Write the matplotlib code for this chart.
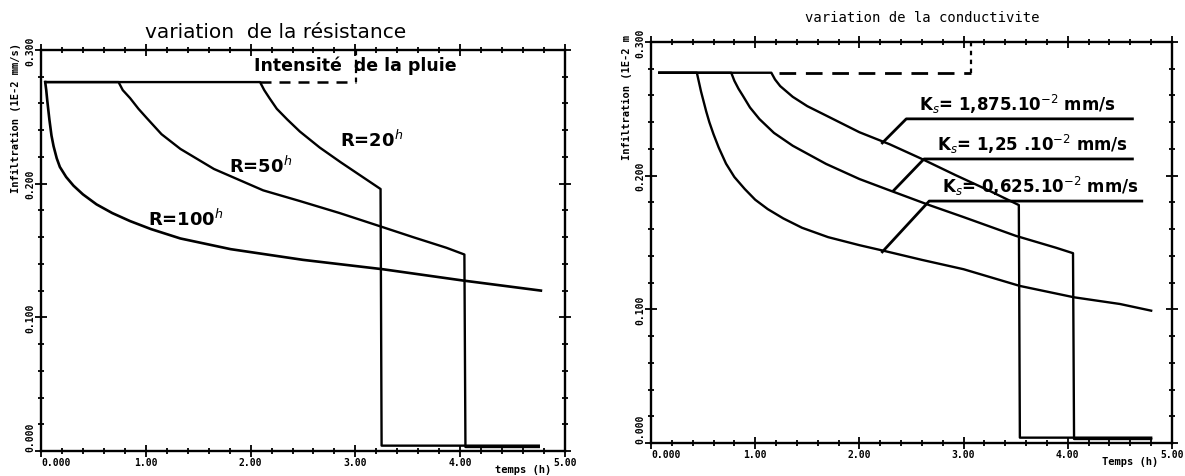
import numpy as np
import matplotlib.pyplot as plt
from matplotlib.ticker import MultipleLocator, FixedLocator, FixedFormatter

# ---- left chart : variation de la resistance (R = 20h, 50h, 100h)
t_r20 = [0.04, 2.09, 2.13, 2.18, 2.25, 2.35, 2.47, 2.66, 2.86, 3.05, 3.24, 3.25, 4.75]
v_r20 = [0.276, 0.276, 0.270, 0.264, 0.256, 0.248, 0.239, 0.227, 0.216, 0.206, 0.196, 0.004, 0.004]
t_r50 = [0.04, 0.74, 0.78, 0.85, 0.93, 1.01, 1.15, 1.33, 1.65, 2.12, 2.47, 2.85, 3.24, 3.55, 3.87, 4.04, 4.05, 4.75]
v_r50 = [0.276, 0.276, 0.270, 0.264, 0.256, 0.249, 0.237, 0.226, 0.211, 0.195, 0.187, 0.178, 0.168, 0.160, 0.152, 0.147, 0.003, 0.003]
t_r100 = [0.04, 0.05, 0.06, 0.07, 0.08, 0.10, 0.12, 0.15, 0.18, 0.24, 0.31, 0.40, 0.53, 0.68, 0.85, 1.05, 1.33, 1.81, 2.50, 3.26, 4.03, 4.77]
v_r100 = [0.276, 0.270, 0.262, 0.255, 0.248, 0.236, 0.228, 0.219, 0.2125, 0.205, 0.1985, 0.192, 0.1845, 0.178, 0.172, 0.166, 0.159, 0.151, 0.143, 0.136, 0.1275, 0.120]
rain_t_left = [2.09, 3.01]
rain_v_left = [0.276, 0.276]

# ---- right chart : variation de la conductivite (Ks)
t_ks1875 = [0.08, 1.155, 1.19, 1.24, 1.30, 1.36, 1.50, 1.68, 2.00, 2.29, 2.60, 2.92, 3.24, 3.53, 3.54, 4.80]
v_ks1875 = [0.277, 0.277, 0.272, 0.267, 0.263, 0.259, 0.252, 0.245, 0.2325, 0.2235, 0.2125, 0.2005, 0.189, 0.178, 0.004, 0.004]
t_ks125 = [0.08, 0.77, 0.80, 0.84, 0.88, 0.95, 1.04, 1.18, 1.36, 1.68, 2.00, 2.29, 2.67, 3.00, 3.50, 3.89, 4.05, 4.06, 4.80]
v_ks125 = [0.277, 0.277, 0.271, 0.265, 0.260, 0.251, 0.2424, 0.232, 0.2224, 0.2088, 0.1975, 0.189, 0.178, 0.169, 0.155, 0.146, 0.142, 0.003, 0.003]
t_ks0625 = [0.08, 0.44, 0.46, 0.48, 0.50, 0.53, 0.56, 0.60, 0.65, 0.72, 0.80, 0.90, 1.00, 1.12, 1.27, 1.45, 1.70, 2.00, 2.25, 2.60, 3.00, 3.54, 4.06, 4.50, 4.80]
v_ks0625 = [0.277, 0.277, 0.270, 0.263, 0.257, 0.248, 0.240, 0.231, 0.221, 0.209, 0.199, 0.190, 0.182, 0.175, 0.168, 0.161, 0.154, 0.148, 0.1435, 0.137, 0.130, 0.1175, 0.109, 0.104, 0.099]
rain_t_right = [1.23, 3.07]
rain_v_right = [0.277, 0.277]

ks_labels = ['K$_s$= 1,875.10$^{-2}$ mm/s', 'K$_s$= 1,25 .10$^{-2}$ mm/s', 'K$_s$= 0,625.10$^{-2}$ mm/s']
ks_line_start = [2.45, 2.62, 2.67]
ks_line_end = [4.62, 4.62, 4.71]
ks_line_v = [0.2425, 0.2125, 0.181]
ks_touch_t = [2.22, 2.33, 2.22]
ks_touch_v = [0.2245, 0.189, 0.143]

xticks = [0, 1, 2, 3, 4, 5]
xlabels = ['0.000', '1.00', '2.00', '3.00', '4.00', '5.00']
yticks = [0.0, 0.1, 0.2, 0.3]
ylabels = ['0.000', '0.100', '0.200', '0.300']

tickfont = dict(family='DejaVu Sans Mono', weight='bold', size=7)
hand = dict(family='DejaVu Sans', weight='bold')


def style_axes(ax, xname, yname):
    ax.set_xlim(0, 5)
    ax.set_ylim(0, 0.3)
    for s in ax.spines.values():
        s.set_linewidth(1.7)
    ax.xaxis.set_major_locator(FixedLocator(xticks))
    ax.xaxis.set_major_formatter(FixedFormatter(xlabels))
    ax.yaxis.set_major_locator(FixedLocator(yticks))
    ax.yaxis.set_major_formatter(FixedFormatter(ylabels))
    ax.xaxis.set_minor_locator(MultipleLocator(0.2))
    ax.yaxis.set_minor_locator(MultipleLocator(0.02))
    ax.tick_params(which='both', direction='inout', top=True, right=True, width=1.3)
    ax.tick_params(which='major', length=8, pad=0)
    ax.tick_params(which='minor', length=5)
    for lb in ax.get_xticklabels():
        lb.set_fontproperties(tickfont)
    for lb in ax.get_yticklabels():
        lb.set_fontproperties(tickfont)
        lb.set_rotation(90)
        lb.set_va('center')
    # corner labels: keep the two "0.000" apart
    ax.get_yticklabels()[0].set_va('bottom')
    ax.get_xticklabels()[0].set_ha('left')
    ax.text(0.92, -0.045, xname, transform=ax.transAxes, ha='center', va='center',
            family='DejaVu Sans Mono', weight='bold', fontsize=7.5)
    ax.text(-0.047, 1.02, yname, transform=ax.transAxes, rotation=90, ha='center', va='top',
            family='DejaVu Sans Mono', weight='bold', fontsize=7.5)


fig = plt.figure(figsize=(11.85, 4.77), dpi=100)
ax1 = fig.add_axes([41 / 1185, 25 / 477, 524 / 1185, 401 / 477])
ax2 = fig.add_axes([651 / 1185, 33 / 477, 521 / 1185, 401 / 477])

# left
ax1.plot(t_r20, v_r20, color='k', lw=1.7)
ax1.plot(t_r50, v_r50, color='k', lw=1.7)
ax1.plot(t_r100, v_r100, color='k', lw=1.9)
ax1.plot(rain_t_left, rain_v_left, color='k', lw=1.8, ls=(0, (4.4, 3.2)))
ax1.plot([rain_t_left[-1]] * 2, [rain_v_left[-1], 0.3], color='k', lw=1.6, ls=(0, (2, 2)))
ax1.text(2.03, 0.289, 'Intensité  de la pluie', fontsize=12.5, va='center', **hand)
ax1.text(2.85, 0.233, 'R=20$^h$', fontsize=13, va='center', **hand)
ax1.text(1.79, 0.214, 'R=50$^h$', fontsize=13, va='center', **hand)
ax1.text(1.02, 0.174, 'R=100$^h$', fontsize=13, va='center', **hand)
style_axes(ax1, 'temps (h)', 'Infiltration (1E-2 mm/s)')

# right
ax2.plot(t_ks1875, v_ks1875, color='k', lw=1.7)
ax2.plot(t_ks125, v_ks125, color='k', lw=1.7)
ax2.plot(t_ks0625, v_ks0625, color='k', lw=1.7)
ax2.plot(rain_t_right, rain_v_right, color='k', lw=2.0, ls=(0, (6, 3.5)))
ax2.plot([rain_t_right[-1]] * 2, [rain_v_right[-1], 0.3], color='k', lw=1.6, ls=(0, (2, 2)))
for lab, t0, t1, v, tt, tv in zip(ks_labels, ks_line_start, ks_line_end, ks_line_v, ks_touch_t, ks_touch_v):
    ax2.plot([tt, t0, t1], [tv, v, v], color='k', lw=2.0)
    ax2.text(t0 + 0.12, v + 0.003, lab, fontsize=12, va='bottom', **hand)
style_axes(ax2, 'Temps (h)', 'Infiltration (1E-2 m')

fig.text(276 / 1185, 1 - 32 / 477, 'variation  de la résistance', ha='center', va='center',
         family='DejaVu Sans', fontsize=14.5)
fig.text(922 / 1185, 1 - 18 / 477, 'variation de la conductivite', ha='center', va='center',
         family='DejaVu Sans Mono', fontsize=10)

fig.savefig('out.png', dpi=100)
